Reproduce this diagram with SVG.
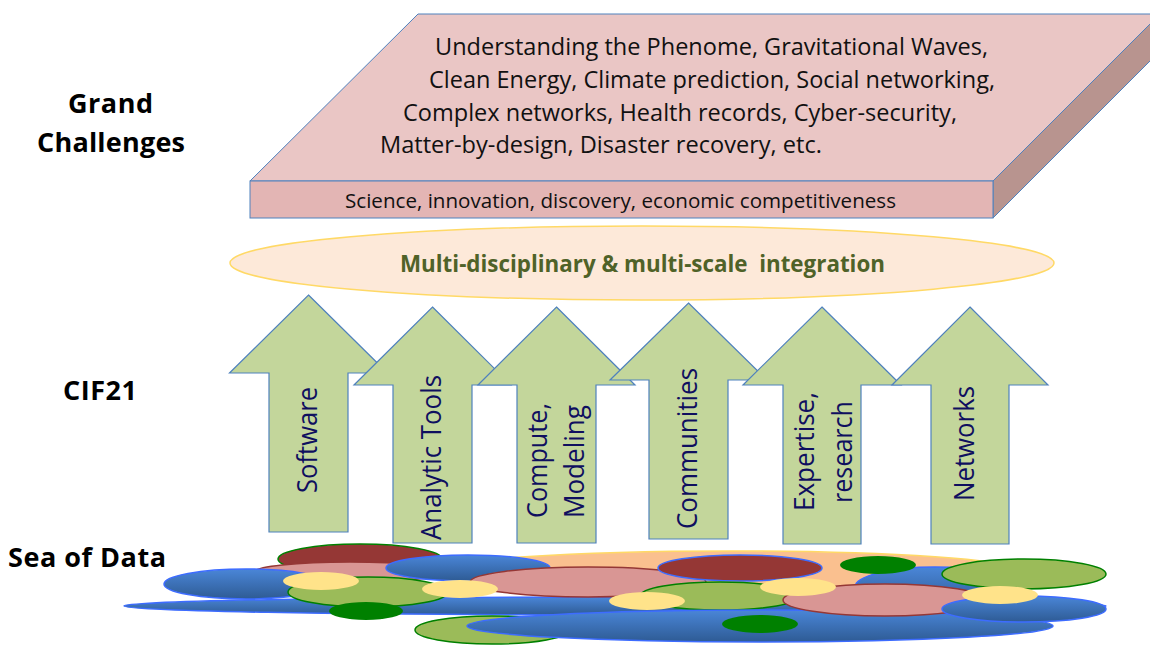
<svg xmlns="http://www.w3.org/2000/svg" width="1150" height="645" viewBox="0 0 1150 645">
<style>
.lbl{font-family:"Open Sans","Liberation Sans",sans-serif;font-weight:bold;font-size:27px;fill:#000}
.gc{font-family:"Open Sans","Liberation Sans",sans-serif;font-size:23px;fill:#111}
.sci{font-family:"Open Sans","Liberation Sans",sans-serif;font-size:20.5px;fill:#111}
.integ{font-family:"Open Sans","Liberation Sans",sans-serif;font-weight:bold;font-size:23.5px;fill:#4f6228}
.arr{fill:#c3d69b;stroke:#4f81bd;stroke-width:1.2}
.at{font-family:"Open Sans","Liberation Sans",sans-serif;font-size:28px;fill:#0f0f5f;text-anchor:middle}
.blue{fill:url(#bg);stroke:#3d6cff;stroke-width:1.5}
.dred{fill:#953735}
.pink{fill:#d99694;stroke:#953735;stroke-width:1.5}
.grn{fill:#9bbb59;stroke:#008000;stroke-width:1.5}
.yel{fill:#ffe38a}
.dgrn{fill:#008000}
</style>
<defs>
<linearGradient id="bg" x1="0" y1="0" x2="0" y2="1">
<stop offset="0" stop-color="#4a86d8"/>
<stop offset="1" stop-color="#2e5b94"/>
</linearGradient>
</defs>
<rect width="1150" height="645" fill="#fff"/>

<g id="labels">
<text class="lbl" x="68" y="113" textLength="85">Grand</text>
<text class="lbl" x="37" y="152" textLength="148">Challenges</text>
<text class="lbl" x="63" y="400" textLength="74">CIF21</text>
<text class="lbl" x="8" y="567" textLength="158">Sea of Data</text>
</g>

<g id="grand-challenges">
<polygon points="418,14 1160,14 993,181 250,181" fill="#eac6c5" stroke="#4f81bd" stroke-width="1"/>
<polygon points="993,181 1160,14 1160,51 993,218" fill="#b8948f" stroke="#4f81bd" stroke-width="1"/>
<rect x="250" y="181" width="743" height="37" fill="#e3b5b4" stroke="#4f81bd" stroke-width="1"/>
<text class="gc" x="435" y="55" textLength="553" lengthAdjust="spacingAndGlyphs">Understanding the Phenome, Gravitational Waves,</text>
<text class="gc" x="429" y="88" textLength="566" lengthAdjust="spacingAndGlyphs">Clean Energy, Climate prediction, Social networking,</text>
<text class="gc" x="403" y="121" textLength="554" lengthAdjust="spacingAndGlyphs">Complex networks, Health records, Cyber-security,</text>
<text class="gc" x="380" y="153" textLength="442" lengthAdjust="spacingAndGlyphs">Matter-by-design, Disaster recovery, etc.</text>
<text class="sci" x="345" y="208" textLength="551" lengthAdjust="spacingAndGlyphs">Science, innovation, discovery, economic competitiveness</text>
</g>

<g id="integration">
<ellipse cx="642" cy="263" rx="412" ry="37" fill="#fde9d9" stroke="#ffd966" stroke-width="1.5"/>
<text class="integ" x="400" y="272" textLength="485" lengthAdjust="spacingAndGlyphs" xml:space="preserve">Multi-disciplinary &amp; multi-scale  integration</text>
</g>

<g id="connectors"></g>

<g id="arrow-software">
<polygon class="arr" points="308.5,295 387.5,373 348,373 348,532 269,532 269,373 229.5,373"/>
<text class="at" transform="translate(317,440) rotate(-90)" textLength="106" lengthAdjust="spacingAndGlyphs">Software</text>
</g>
<g id="arrow-analytic">
<polygon class="arr" points="432.5,307 511,385 472,385 472,543 393,543 393,385 354,385"/>
<text class="at" transform="translate(441,457.5) rotate(-90)" textLength="165" lengthAdjust="spacingAndGlyphs">Analytic Tools</text>
</g>
<g id="arrow-compute">
<polygon class="arr" points="556.5,307 635,385 596,385 596,543 517,543 517,385 478,385"/>
<text class="at" transform="translate(547,460.5) rotate(-90)" textLength="115" lengthAdjust="spacingAndGlyphs">Compute,</text>
<text class="at" transform="translate(584,461.5) rotate(-90)" textLength="113" lengthAdjust="spacingAndGlyphs">Modeling</text>
</g>
<g id="arrow-communities">
<polygon class="arr" points="688.5,303 767,380 728,380 728,539 649,539 649,380 610,380"/>
<text class="at" transform="translate(697,448.5) rotate(-90)" textLength="161" lengthAdjust="spacingAndGlyphs">Communities</text>
</g>
<g id="arrow-expertise">
<polygon class="arr" points="822,307 901,385 861,385 861,544 783,544 783,385 743,385"/>
<text class="at" transform="translate(814,451.5) rotate(-90)" textLength="119" lengthAdjust="spacingAndGlyphs">Expertise,</text>
<text class="at" transform="translate(852,452) rotate(-90)" textLength="102" lengthAdjust="spacingAndGlyphs">research</text>
</g>
<g id="arrow-networks">
<polygon class="arr" points="970,307 1048,385 1009,385 1009,544 931,544 931,385 892,385"/>
<text class="at" transform="translate(974,443.5) rotate(-90)" textLength="115" lengthAdjust="spacingAndGlyphs">Networks</text>
</g>

<g id="sea-of-data">
<ellipse cx="730" cy="571" rx="290" ry="20" fill="#fac08f" stroke="#ffd966" stroke-width="1.5"/>
<ellipse class="blue" cx="615" cy="606" rx="491" ry="9"/>
<ellipse class="dred" cx="360" cy="559" rx="82" ry="15" stroke="#008000" stroke-width="1.5"/>
<ellipse class="pink" cx="350" cy="572" rx="96" ry="10"/>
<ellipse class="blue" cx="468" cy="568" rx="82" ry="13"/>
<ellipse class="blue" cx="246" cy="584" rx="82" ry="15"/>
<ellipse class="grn" cx="368" cy="592" rx="80" ry="15"/>
<ellipse class="yel" cx="321" cy="581" rx="38" ry="9"/>
<ellipse class="dgrn" cx="366" cy="611" rx="37" ry="9"/>
<ellipse class="pink" cx="588" cy="582" rx="118" ry="15"/>
<ellipse class="yel" cx="460" cy="589" rx="38" ry="9"/>
<ellipse class="dred" cx="740" cy="568" rx="82" ry="13" stroke="#3d6cff" stroke-width="1.5"/>
<ellipse class="grn" cx="720" cy="596" rx="80" ry="14"/>
<ellipse class="yel" cx="647" cy="601" rx="38" ry="9"/>
<ellipse class="grn" cx="492" cy="630" rx="77" ry="14"/>
<ellipse class="blue" cx="760" cy="626" rx="293" ry="16"/>
<ellipse class="blue" cx="935" cy="587" rx="80" ry="20"/>
<ellipse class="pink" cx="885" cy="600" rx="102" ry="16"/>
<ellipse class="dgrn" cx="878" cy="565" rx="38" ry="9"/>
<ellipse class="yel" cx="798" cy="587" rx="38" ry="9"/>
<ellipse class="grn" cx="1024" cy="574" rx="82" ry="15"/>
<ellipse class="blue" cx="1024" cy="609" rx="82" ry="13"/>
<ellipse class="yel" cx="1000" cy="595" rx="38" ry="9"/>
<ellipse class="dgrn" cx="760" cy="624" rx="38" ry="9"/>
</g>
</svg>
